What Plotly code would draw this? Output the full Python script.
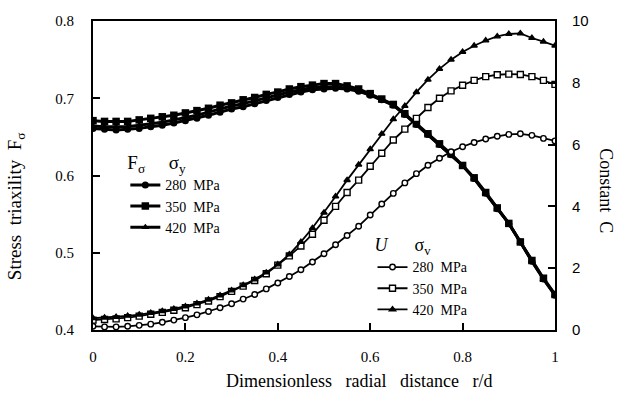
import plotly.graph_objects as go

# Dimensionless radial distance r/d
r_d = [0.0, 0.025, 0.05, 0.075, 0.1, 0.125, 0.15, 0.175, 0.2, 0.225,
       0.25, 0.275, 0.3, 0.325, 0.35, 0.375, 0.4, 0.425, 0.45, 0.475,
       0.5, 0.525, 0.55, 0.575, 0.6, 0.625, 0.65, 0.675, 0.7, 0.725,
       0.75, 0.775, 0.8, 0.825, 0.85, 0.875, 0.9, 0.925, 0.95, 0.975, 1.0]

# Stress triaxiality F_sigma (left axis)
F_280 = [0.661, 0.660, 0.659, 0.660, 0.661, 0.663, 0.665, 0.668, 0.671, 0.674,
         0.678, 0.682, 0.686, 0.689, 0.693, 0.697, 0.701, 0.705, 0.708, 0.711,
         0.712, 0.713, 0.712, 0.709, 0.704, 0.698, 0.691, 0.679, 0.666, 0.653,
         0.640, 0.627, 0.613, 0.596, 0.577, 0.557, 0.538, 0.514, 0.489, 0.466, 0.445]
F_350 = [0.671, 0.670, 0.670, 0.670, 0.672, 0.674, 0.676, 0.678, 0.681, 0.684,
         0.687, 0.691, 0.694, 0.698, 0.701, 0.705, 0.708, 0.712, 0.715, 0.717,
         0.719, 0.719, 0.716, 0.712, 0.706, 0.699, 0.692, 0.680, 0.667, 0.654,
         0.641, 0.628, 0.613, 0.597, 0.578, 0.558, 0.538, 0.514, 0.490, 0.467, 0.446]
F_420 = [0.664, 0.663, 0.663, 0.663, 0.665, 0.667, 0.669, 0.672, 0.675, 0.678,
         0.682, 0.686, 0.690, 0.693, 0.697, 0.701, 0.705, 0.708, 0.711, 0.714,
         0.715, 0.715, 0.713, 0.710, 0.705, 0.698, 0.691, 0.679, 0.666, 0.653,
         0.640, 0.627, 0.613, 0.596, 0.577, 0.557, 0.538, 0.514, 0.489, 0.466, 0.445]

# Constant C (right axis)
C_280 = [0.12, 0.10, 0.10, 0.12, 0.15, 0.19, 0.25, 0.32, 0.40, 0.49,
         0.60, 0.72, 0.85, 1.00, 1.15, 1.33, 1.52, 1.73, 1.95, 2.20,
         2.47, 2.76, 3.06, 3.36, 3.72, 4.08, 4.42, 4.76, 5.06, 5.33,
         5.56, 5.77, 5.93, 6.07, 6.18, 6.27, 6.33, 6.35, 6.30, 6.20, 6.12]
C_350 = [0.32, 0.34, 0.36, 0.40, 0.45, 0.51, 0.57, 0.64, 0.72, 0.82,
         0.94, 1.08, 1.25, 1.42, 1.60, 1.82, 2.10, 2.40, 2.72, 3.10,
         3.55, 4.00, 4.45, 4.85, 5.30, 5.72, 6.15, 6.50, 6.85, 7.20,
         7.50, 7.74, 7.92, 8.08, 8.20, 8.26, 8.28, 8.27, 8.20, 8.08, 7.95]
C_420 = [0.38, 0.40, 0.42, 0.46, 0.50, 0.55, 0.61, 0.68, 0.76, 0.86,
         0.98, 1.12, 1.28, 1.45, 1.64, 1.86, 2.12, 2.45, 2.85, 3.30,
         3.80, 4.32, 4.85, 5.35, 5.85, 6.35, 6.82, 7.25, 7.70, 8.10,
         8.45, 8.75, 9.00, 9.20, 9.37, 9.50, 9.58, 9.60, 9.45, 9.33, 9.20]

labels = ["280  MPa", "350  MPa", "420  MPa"]

SERIF = "Liberation Serif, Times New Roman, serif"
SANS = "Liberation Sans, Arial, sans-serif"

fig = go.Figure()

f_series = [F_280, F_350, F_420]
f_symbols = ["circle", "square", "triangle-up"]
f_sizes = [7, 7.5, 7]
for vals, sym, sz, lab in zip(f_series, f_symbols, f_sizes, labels):
    fig.add_trace(go.Scatter(
        x=r_d, y=vals, mode="lines+markers", name=lab, legend="legend",
        line=dict(color="black", width=3),
        marker=dict(symbol=sym, size=sz, color="black"),
    ))

c_series = [C_280, C_350, C_420]
c_symbols = ["circle", "square", "triangle-up"]
c_fill = ["white", "white", "black"]
c_sizes = [5.5, 6, 5.5]
for vals, sym, fill, sz, lab in zip(c_series, c_symbols, c_fill, c_sizes, labels):
    fig.add_trace(go.Scatter(
        x=r_d, y=vals, mode="lines+markers", name=lab, legend="legend2",
        yaxis="y2",
        line=dict(color="black", width=1.8),
        marker=dict(symbol=sym, size=sz, color=fill,
                    line=dict(color="black", width=1.4)),
    ))

fig.update_layout(
    width=629, height=396,
    margin=dict(l=93, r=74, t=15, b=66),
    paper_bgcolor="white", plot_bgcolor="white",
    font=dict(family=SERIF, size=15, color="black"),
    showlegend=True,
    xaxis=dict(
        range=[0, 1], dtick=0.2, tick0=0,
        showline=True, linecolor="black", linewidth=2, mirror=True,
        ticks="inside", ticklen=7, tickwidth=1.5, tickcolor="black",
        showgrid=False, zeroline=False,
        tickfont=dict(family=SERIF, size=15),
        ticklabelstandoff=12,
    ),
    yaxis=dict(
        range=[0.4, 0.8], dtick=0.1, tick0=0.4,
        showline=True, linecolor="black", linewidth=2,
        ticks="inside", ticklen=7, tickwidth=1.5, tickcolor="black",
        showgrid=False, zeroline=False,
        tickfont=dict(family=SERIF, size=15),
        ticklabelstandoff=14,
    ),
    yaxis2=dict(
        range=[0, 10], dtick=2, tick0=0,
        overlaying="y", side="right",
        showline=True, linecolor="black", linewidth=2,
        ticks="inside", ticklen=7, tickwidth=1.5, tickcolor="black",
        showgrid=False, zeroline=False,
        tickfont=dict(family=SANS, size=15),
        ticklabelstandoff=12,
    ),
    legend=dict(
        x=0.07, y=0.6, xanchor="left", yanchor="top",
        bgcolor="rgba(0,0,0,0)", borderwidth=0,
        font=dict(family=SERIF, size=14),
        title=dict(text="F<sub>σ</sub>     σ<sub>y</sub>",
                   font=dict(family=SERIF, size=19), side="top"),
        tracegroupgap=0, itemclick=False,
    ),
    legend2=dict(
        x=0.605, y=0.33, xanchor="left", yanchor="top",
        bgcolor="rgba(0,0,0,0)", borderwidth=0,
        font=dict(family=SERIF, size=14),
        title=dict(text="<i>U</i>      σ<sub>v</sub>",
                   font=dict(family=SERIF, size=18), side="top"),
        tracegroupgap=0, itemclick=False,
    ),
    annotations=[
        dict(text="Stress  triaxility  F<sub>σ</sub>", xref="paper", yref="paper",
             x=-0.165, y=0.40, xanchor="center", yanchor="middle",
             textangle=-90, showarrow=False, font=dict(family=SERIF, size=19)),
        dict(text="Constant  C", xref="paper", yref="paper",
             x=1.11, y=0.45, xanchor="center", yanchor="middle",
             textangle=90, showarrow=False, font=dict(family=SERIF, size=18)),
        dict(text="Dimensionless   radial   distance   r/d", xref="paper", yref="paper",
             x=0.575, y=-0.125, xanchor="center", yanchor="top",
             showarrow=False, font=dict(family=SERIF, size=18)),
    ],
)

fig.write_html("out.html")
